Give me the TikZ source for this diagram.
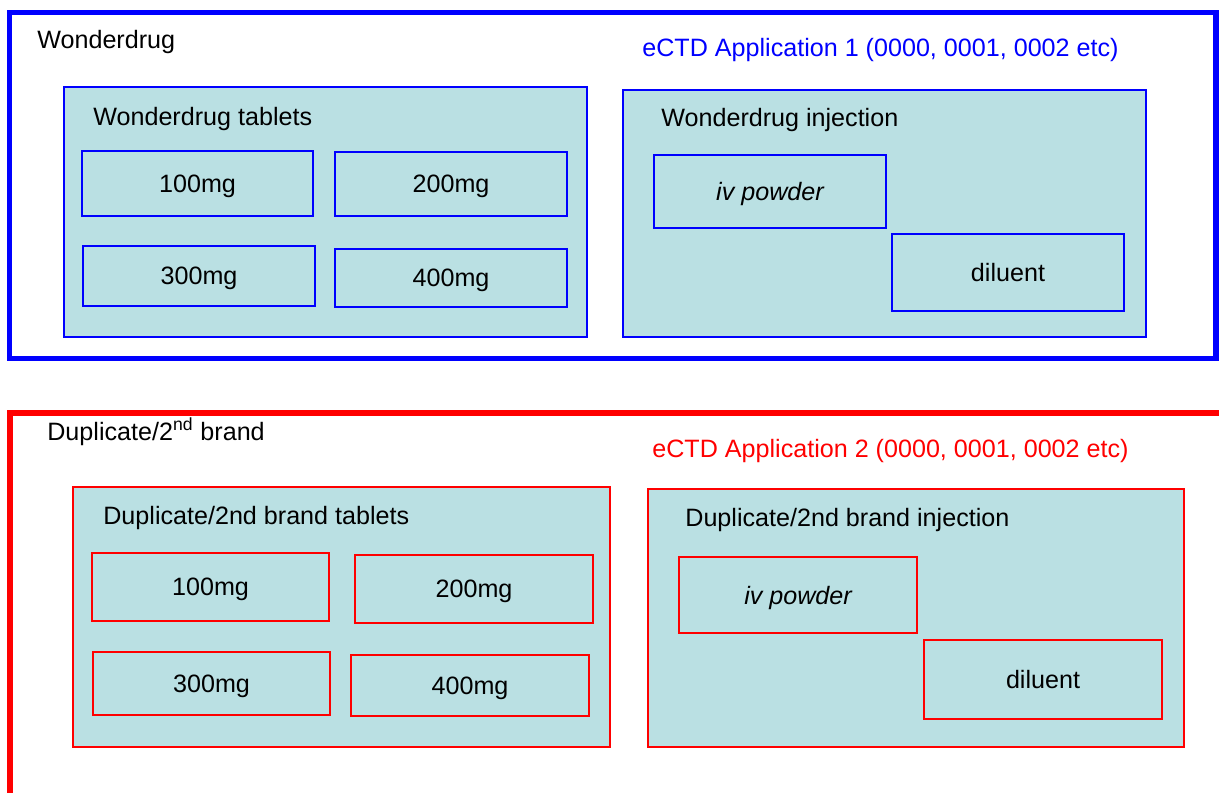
\documentclass[tikz,border=0pt]{standalone}
\usepackage{fontspec}
\setmainfont{Liberation Sans}
\usepackage{tikz}
\definecolor{boxfill}{RGB}{186,224,227}
\tikzset{
  frame/.style={line width=3.1pt},
  group/.style={draw=#1, line width=1pt, fill=boxfill, inner sep=0pt},
  dose/.style={draw=#1, line width=1pt, fill=boxfill, inner sep=0pt, text depth=0pt},
  title/.style={anchor=base west, inner sep=0pt}
}
\begin{document}
\begin{tikzpicture}[x=0.02cm,y=-0.02cm,font=\fontsize{14.3}{17}\selectfont]
\useasboundingbox (0,0) rectangle (1219,793);
\clip (0,0) rectangle (1219,793);
\draw[frame,blue] (9.5,12.5) rectangle (1216,358.5);
\draw[frame,red] (10,810) |- (1240,413);
\node[title] (wd) at (37,49) {Wonderdrug};
\node[title,text=blue] (app1) at (642,57) {eCTD Application 1 (0000, 0001, 0002 etc)};
\node[group=blue, minimum width=10.46cm, minimum height=5.00cm] (wtab) at (325.5,212) {};
\node[title] (wtabt) at (93,126) {Wonderdrug tablets};
\node[dose=blue, minimum width=4.62cm, minimum height=1.30cm] (w100) at (197.5,183.5) {100mg};
\node[dose=blue, minimum width=4.64cm, minimum height=1.28cm] (w200) at (451,184) {200mg};
\node[dose=blue, minimum width=4.64cm, minimum height=1.20cm] (w300) at (199,276) {300mg};
\node[dose=blue, minimum width=4.64cm, minimum height=1.16cm] (w400) at (451,278) {400mg};
\node[group=blue, minimum width=10.46cm, minimum height=4.94cm] (winj) at (884.5,213.5) {};
\node[title] (winjt) at (661,127) {Wonderdrug injection};
\node[dose=blue, minimum width=4.64cm, minimum height=1.46cm] (wivp) at (770,191.5) {\itshape iv powder};
\node[dose=blue, minimum width=4.64cm, minimum height=1.54cm] (wdil) at (1008,272.5) {diluent};
\node[title] (dup) at (47,440) {Duplicate/2\textsuperscript{nd} brand};
\node[title,text=red] (app2) at (652,457) {eCTD Application 2 (0000, 0001, 0002 etc)};
\node[group=red, minimum width=10.74cm, minimum height=5.20cm] (dtab) at (341.5,617) {};
\node[title] (dtabt) at (103,524) {Duplicate/2nd brand tablets};
\node[dose=red, minimum width=4.74cm, minimum height=1.36cm] (d100) at (210.5,587) {100mg};
\node[dose=red, minimum width=4.76cm, minimum height=1.36cm] (d200) at (474,589) {200mg};
\node[dose=red, minimum width=4.74cm, minimum height=1.26cm] (d300) at (211.5,683.5) {300mg};
\node[dose=red, minimum width=4.76cm, minimum height=1.22cm] (d400) at (470,685.5) {400mg};
\node[group=red, minimum width=10.72cm, minimum height=5.16cm] (dinj) at (916,618) {};
\node[title] (dinjt) at (685,526) {Duplicate/2nd brand injection};
\node[dose=red, minimum width=4.76cm, minimum height=1.52cm] (divp) at (798,595) {\itshape iv powder};
\node[dose=red, minimum width=4.76cm, minimum height=1.58cm] (ddil) at (1043,679.5) {diluent};
\end{tikzpicture}
\end{document}
